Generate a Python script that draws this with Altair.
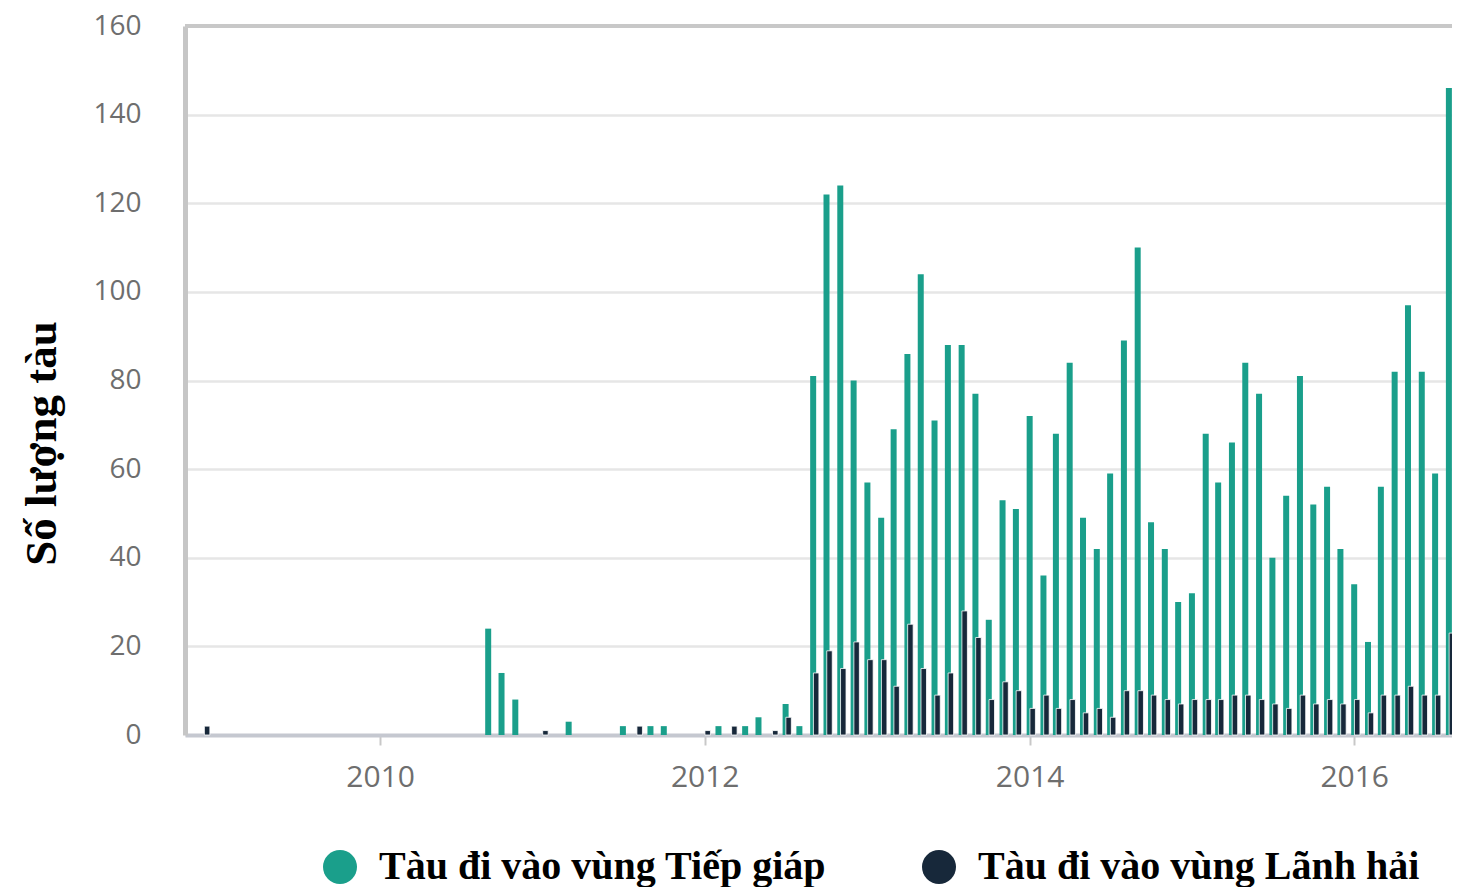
import altair as alt
import pandas as pd

# ---- data (monthly counts) ----
first_month = (2008, 12)
teal_name = "Tàu đi vào vùng Tiếp giáp"
dark_name = "Tàu đi vào vùng Lãnh hải"

teal_2008 = [0]
teal_2009 = [0, 0, 0, 0, 0, 0, 0, 0, 0, 0, 0, 0]
teal_2010 = [0, 0, 0, 0, 0, 0, 0, 0, 24, 14, 8, 0]
teal_2011 = [0, 0, 3, 0, 0, 0, 2, 0, 2, 2, 0, 0]
teal_2012 = [0, 2, 0, 2, 4, 0, 7, 2, 81, 122, 124, 80]
teal_2013 = [57, 49, 69, 86, 104, 71, 88, 88, 77, 26, 53, 51]
teal_2014 = [72, 36, 68, 84, 49, 42, 59, 89, 110, 48, 42, 30]
teal_2015 = [32, 68, 57, 66, 84, 77, 40, 54, 81, 52, 56, 42]
teal_2016 = [34, 21, 56, 82, 97, 82, 59, 146]

dark_2008 = [2]
dark_2009 = [0, 0, 0, 0, 0, 0, 0, 0, 0, 0, 0, 0]
dark_2010 = [0, 0, 0, 0, 0, 0, 0, 0, 0, 0, 0, 0]
dark_2011 = [1, 0, 0, 0, 0, 0, 0, 2, 0, 0, 0, 0]
dark_2012 = [1, 0, 2, 0, 0, 1, 4, 0, 14, 19, 15, 21]
dark_2013 = [17, 17, 11, 25, 15, 9, 14, 28, 22, 8, 12, 10]
dark_2014 = [6, 9, 6, 8, 5, 6, 4, 10, 10, 9, 8, 7]
dark_2015 = [8, 8, 8, 9, 9, 8, 7, 6, 9, 7, 8, 7]
dark_2016 = [8, 5, 9, 9, 11, 9, 9, 23]

y_ticks = [0, 20, 40, 60, 80, 100, 120, 140, 160]
x_tick_years = [2010, 2012, 2014, 2016]

teal_vals = (teal_2008 + teal_2009 + teal_2010 + teal_2011 + teal_2012 +
             teal_2013 + teal_2014 + teal_2015 + teal_2016)
dark_vals = (dark_2008 + dark_2009 + dark_2010 + dark_2011 + dark_2012 +
             dark_2013 + dark_2014 + dark_2015 + dark_2016)

rows = []
y0, m0 = first_month
for i, (tv, dv) in enumerate(zip(teal_vals, dark_vals)):
    idx = (m0 - 1) + i
    yy, mm = y0 + idx // 12, idx % 12 + 1
    d = f"{yy}/{mm:02d}/01"
    rows.append({"month": d, "series": teal_name, "key": "a", "value": tv})
    rows.append({"month": d, "series": dark_name, "key": "b", "value": dv})
df = pd.DataFrame(rows)

TEAL = "#1a9f8b"
DARK = "#17283a"

x_enc = alt.X(
    "month:T",
    title=None,
    scale=alt.Scale(domain=[alt.DateTime(year=2008, month=10, date=19),
                            alt.DateTime(year=2016, month=8, date=8)],
                    nice=False, padding=0),
    axis=alt.Axis(
        values=[alt.DateTime(year=y, month=1, date=1) for y in x_tick_years],
        format="%Y", grid=False, tickSize=10, tickColor="#c8c8c8", tickWidth=2,
        domainColor="#c5c8d0", domainWidth=4, labelPadding=17,
        labelFontSize=30, labelColor="#6e6e6e", labelFont="Open Sans",
        labelFlush=False,
    ),
)
y_enc = alt.Y(
    "value:Q",
    scale=alt.Scale(domain=[0, 160], nice=False),
    axis=alt.Axis(
        values=y_ticks, title="Số lượng tàu", ticks=False,
        domainColor="#c6c6c6", domainWidth=5,
        gridColor="#e6e6e6", gridWidth=2.5,
        labelPadding=44, labelFontSize=28, labelColor="#6e6e6e", labelFont="Open Sans",
        titleFont="Liberation Serif", titleFontWeight="bold", titleFontSize=45,
        titleColor="#000000", titleAngle=270, titleAlign="center", titleBaseline="middle",
        titleX=-144, titleY=417,
    ),
)
color_enc = alt.Color(
    "series:N",
    scale=alt.Scale(domain=[teal_name, dark_name], range=[TEAL, DARK]),
    legend=alt.Legend(
        title=None, orient="none", direction="horizontal",
        legendX=135, legendY=821,
        symbolType="circle", symbolSize=1156, symbolStrokeWidth=0, symbolOpacity=1,
        labelFont="Liberation Serif", labelFontWeight="bold", labelFontSize=40,
        labelColor="#000000", labelOffset=19, columnPadding=92, labelLimit=1000,
    ),
)

base = alt.Chart(df)

teal = base.transform_filter("datum.key == 'a' && datum.value > 0").mark_bar(
    width=6, xOffset=0
).encode(x=x_enc, y=y_enc, color=color_enc)

dark = base.transform_filter("datum.key == 'b' && datum.value > 0").mark_bar(
    width=5.5, xOffset=3, stroke="white", strokeWidth=0.8
).encode(x=x_enc, y=y_enc, color=color_enc)

top_rule = alt.Chart(pd.DataFrame({"v": [160]})).mark_rule(
    color="#c8c8c8", strokeWidth=4
).encode(y=alt.Y("v:Q"))

chart = alt.layer(top_rule, teal, dark).properties(
    width=1267, height=709,
    padding={"left": 177, "top": 18, "right": 0, "bottom": 152},
    autosize=alt.AutoSizeParams(type="none"),
    background="white",
).configure_view(stroke=None)

chart.save("out.html", embed_options={"renderer": "svg", "actions": False})
